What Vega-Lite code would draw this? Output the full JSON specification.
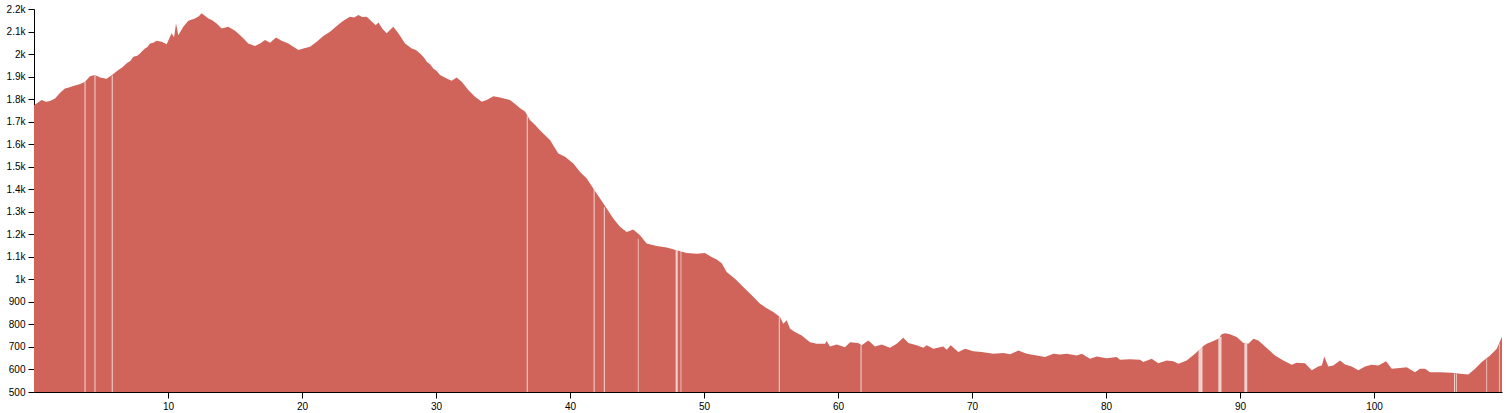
{
  "$schema": "https://vega.github.io/schema/vega-lite/v6.json",
  "width": 1468,
  "height": 383,
  "autosize": {"type": "none"},
  "padding": {"left": 34, "top": 9, "right": 6, "bottom": 21},
  "background": "white",
  "config": {
    "view": {"stroke": null},
    "axis": {
      "labelFont": "Liberation Sans",
      "labelFontSize": 10,
      "labelColor": "#000",
      "domainColor": "#000",
      "tickColor": "#000",
      "tickSize": 6,
      "grid": false,
      "title": null,
      "labelPadding": 3,
      "labelOverlap": false,
      "labelFlush": false
    }
  },
  "datasets": {
    "profile": [
      {"km": 0, "ele": 1773}, {"km": 0.3, "ele": 1785}, {"km": 0.57, "ele": 1796}, {"km": 0.9, "ele": 1788}, {"km": 1.19, "ele": 1792}, {"km": 1.57, "ele": 1803},
      {"km": 1.95, "ele": 1828}, {"km": 2.31, "ele": 1847}, {"km": 2.6, "ele": 1852}, {"km": 2.93, "ele": 1858}, {"km": 3.4, "ele": 1866}, {"km": 3.81, "ele": 1877}, {"km": 4.18, "ele": 1902},
      {"km": 4.55, "ele": 1907}, {"km": 4.93, "ele": 1896}, {"km": 5.42, "ele": 1890}, {"km": 5.92, "ele": 1911},
      {"km": 6.29, "ele": 1929}, {"km": 6.6, "ele": 1942}, {"km": 6.92, "ele": 1959}, {"km": 7.2, "ele": 1970}, {"km": 7.41, "ele": 1988}, {"km": 7.7, "ele": 1993}, {"km": 7.91, "ele": 2003},
      {"km": 8.1, "ele": 2015}, {"km": 8.28, "ele": 2025}, {"km": 8.45, "ele": 2030}, {"km": 8.66, "ele": 2047}, {"km": 8.9, "ele": 2050}, {"km": 9.15, "ele": 2059}, {"km": 9.53, "ele": 2055},
      {"km": 9.9, "ele": 2044}, {"km": 10.1, "ele": 2070}, {"km": 10.27, "ele": 2092}, {"km": 10.45, "ele": 2075}, {"km": 10.6, "ele": 2136},
      {"km": 10.77, "ele": 2084}, {"km": 11.14, "ele": 2121}, {"km": 11.52, "ele": 2148}, {"km": 12.01, "ele": 2158},
      {"km": 12.3, "ele": 2168}, {"km": 12.51, "ele": 2181}, {"km": 12.75, "ele": 2170}, {"km": 13.01, "ele": 2158}, {"km": 13.3, "ele": 2150}, {"km": 13.63, "ele": 2136}, {"km": 14.0, "ele": 2114},
      {"km": 14.5, "ele": 2121}, {"km": 15.0, "ele": 2104}, {"km": 15.3, "ele": 2088}, {"km": 15.62, "ele": 2070}, {"km": 15.99, "ele": 2047},
      {"km": 16.49, "ele": 2036}, {"km": 16.87, "ele": 2047}, {"km": 17.24, "ele": 2062}, {"km": 17.61, "ele": 2050},
      {"km": 18.06, "ele": 2073}, {"km": 18.48, "ele": 2059}, {"km": 18.98, "ele": 2047}, {"km": 19.35, "ele": 2032},
      {"km": 19.73, "ele": 2018}, {"km": 20.1, "ele": 2025}, {"km": 20.6, "ele": 2032}, {"km": 21.1, "ele": 2055},
      {"km": 21.59, "ele": 2080}, {"km": 22.09, "ele": 2099}, {"km": 22.59, "ele": 2124}, {"km": 23.08, "ele": 2148},
      {"km": 23.58, "ele": 2166}, {"km": 23.9, "ele": 2162}, {"km": 24.2, "ele": 2173}, {"km": 24.5, "ele": 2165}, {"km": 24.83, "ele": 2166}, {"km": 25.2, "ele": 2144},
      {"km": 25.5, "ele": 2128}, {"km": 25.7, "ele": 2140}, {"km": 26.0, "ele": 2112}, {"km": 26.32, "ele": 2092}, {"km": 26.81, "ele": 2121},
      {"km": 27.19, "ele": 2092}, {"km": 27.69, "ele": 2047}, {"km": 28.19, "ele": 2025}, {"km": 28.5, "ele": 2018}, {"km": 28.81, "ele": 2003},
      {"km": 29.1, "ele": 1985}, {"km": 29.31, "ele": 1966}, {"km": 29.55, "ele": 1955}, {"km": 29.8, "ele": 1936}, {"km": 30.05, "ele": 1925}, {"km": 30.3, "ele": 1907}, {"km": 30.8, "ele": 1892},
      {"km": 31.17, "ele": 1881}, {"km": 31.54, "ele": 1896}, {"km": 31.92, "ele": 1877}, {"km": 32.41, "ele": 1840},
      {"km": 32.91, "ele": 1810}, {"km": 33.41, "ele": 1788}, {"km": 33.78, "ele": 1796}, {"km": 34.28, "ele": 1813},
      {"km": 34.78, "ele": 1807}, {"km": 35.52, "ele": 1796}, {"km": 36.02, "ele": 1773}, {"km": 36.3, "ele": 1758},
      {"km": 36.64, "ele": 1745}, {"km": 37.01, "ele": 1707}, {"km": 37.4, "ele": 1685}, {"km": 37.76, "ele": 1662},
      {"km": 38.1, "ele": 1642}, {"km": 38.51, "ele": 1618}, {"km": 38.8, "ele": 1590}, {"km": 39.13, "ele": 1559}, {"km": 39.63, "ele": 1544}, {"km": 40.25, "ele": 1514},
      {"km": 40.75, "ele": 1477}, {"km": 41.25, "ele": 1448}, {"km": 41.74, "ele": 1403}, {"km": 42.24, "ele": 1359},
      {"km": 42.74, "ele": 1314}, {"km": 43.23, "ele": 1270}, {"km": 43.73, "ele": 1233}, {"km": 44.23, "ele": 1210},
      {"km": 44.72, "ele": 1221}, {"km": 45.22, "ele": 1196}, {"km": 45.72, "ele": 1159}, {"km": 46.47, "ele": 1148},
      {"km": 47.22, "ele": 1141}, {"km": 47.96, "ele": 1129}, {"km": 48.71, "ele": 1117}, {"km": 49.46, "ele": 1114},
      {"km": 50.07, "ele": 1117}, {"km": 50.57, "ele": 1099}, {"km": 50.95, "ele": 1088}, {"km": 51.32, "ele": 1072}, {"km": 51.69, "ele": 1033},
      {"km": 52.31, "ele": 1003}, {"km": 52.93, "ele": 966}, {"km": 53.56, "ele": 929}, {"km": 54.18, "ele": 892},
      {"km": 54.68, "ele": 872}, {"km": 55.17, "ele": 855}, {"km": 55.67, "ele": 833}, {"km": 55.92, "ele": 803},
      {"km": 56.17, "ele": 818}, {"km": 56.42, "ele": 781}, {"km": 56.79, "ele": 766}, {"km": 57.29, "ele": 751},
      {"km": 57.91, "ele": 721}, {"km": 58.41, "ele": 714}, {"km": 59.03, "ele": 714}, {"km": 59.16, "ele": 726},
      {"km": 59.4, "ele": 702}, {"km": 59.9, "ele": 711}, {"km": 60.52, "ele": 699}, {"km": 60.9, "ele": 721},
      {"km": 61.5, "ele": 717}, {"km": 61.77, "ele": 707}, {"km": 62.26, "ele": 729}, {"km": 62.76, "ele": 702},
      {"km": 63.26, "ele": 711}, {"km": 63.88, "ele": 696}, {"km": 64.38, "ele": 714}, {"km": 64.87, "ele": 741},
      {"km": 65.25, "ele": 717}, {"km": 65.87, "ele": 707}, {"km": 66.37, "ele": 696}, {"km": 66.62, "ele": 707},
      {"km": 67.11, "ele": 692}, {"km": 67.86, "ele": 702}, {"km": 68.11, "ele": 688}, {"km": 68.41, "ele": 707},
      {"km": 68.98, "ele": 677}, {"km": 69.48, "ele": 692}, {"km": 70.1, "ele": 681}, {"km": 70.72, "ele": 677},
      {"km": 71.59, "ele": 670}, {"km": 72.34, "ele": 673}, {"km": 72.84, "ele": 668}, {"km": 73.46, "ele": 684},
      {"km": 74.08, "ele": 670}, {"km": 74.83, "ele": 662}, {"km": 75.45, "ele": 655}, {"km": 76.07, "ele": 670},
      {"km": 76.57, "ele": 667}, {"km": 77.07, "ele": 670}, {"km": 77.81, "ele": 662}, {"km": 78.19, "ele": 670},
      {"km": 78.81, "ele": 648}, {"km": 79.31, "ele": 658}, {"km": 80.05, "ele": 650}, {"km": 80.8, "ele": 655},
      {"km": 81.04, "ele": 643}, {"km": 81.79, "ele": 645}, {"km": 82.54, "ele": 643}, {"km": 82.78, "ele": 633},
      {"km": 83.41, "ele": 648}, {"km": 83.9, "ele": 628}, {"km": 84.53, "ele": 640}, {"km": 85.02, "ele": 637},
      {"km": 85.4, "ele": 625}, {"km": 86.02, "ele": 640}, {"km": 86.64, "ele": 670}, {"km": 87.14, "ele": 699},
      {"km": 87.51, "ele": 714}, {"km": 88.01, "ele": 726}, {"km": 88.38, "ele": 736}, {"km": 88.63, "ele": 756},
      {"km": 88.88, "ele": 761}, {"km": 89.25, "ele": 756}, {"km": 89.75, "ele": 744}, {"km": 90.25, "ele": 717},
      {"km": 90.62, "ele": 714}, {"km": 91.0, "ele": 736}, {"km": 91.37, "ele": 729}, {"km": 91.99, "ele": 695},
      {"km": 92.61, "ele": 662}, {"km": 93.23, "ele": 640}, {"km": 93.86, "ele": 621}, {"km": 94.23, "ele": 630},
      {"km": 94.85, "ele": 628}, {"km": 95.35, "ele": 596}, {"km": 95.84, "ele": 613}, {"km": 96.1, "ele": 618},
      {"km": 96.29, "ele": 658}, {"km": 96.59, "ele": 613}, {"km": 96.96, "ele": 618}, {"km": 97.46, "ele": 640},
      {"km": 97.84, "ele": 622}, {"km": 98.33, "ele": 613}, {"km": 98.83, "ele": 596}, {"km": 99.33, "ele": 613},
      {"km": 99.83, "ele": 621}, {"km": 100.32, "ele": 618}, {"km": 100.9, "ele": 637}, {"km": 101.32, "ele": 603},
      {"km": 101.94, "ele": 607}, {"km": 102.44, "ele": 610}, {"km": 103.06, "ele": 588}, {"km": 103.43, "ele": 603},
      {"km": 103.81, "ele": 603}, {"km": 104.18, "ele": 588}, {"km": 104.93, "ele": 588}, {"km": 105.8, "ele": 585},
      {"km": 106.42, "ele": 581}, {"km": 107.04, "ele": 578}, {"km": 107.54, "ele": 603}, {"km": 108.04, "ele": 633},
      {"km": 108.66, "ele": 662}, {"km": 109.16, "ele": 692}, {"km": 109.55, "ele": 745}
    ],
    "gaps": [
      {"start": 3.77, "end": 3.85, "ele": 1877},
      {"start": 4.51, "end": 4.59, "ele": 1907},
      {"start": 5.8, "end": 5.88, "ele": 1905},
      {"start": 36.77, "end": 36.85, "ele": 1725},
      {"start": 41.76, "end": 41.84, "ele": 1400},
      {"start": 42.52, "end": 42.6, "ele": 1320},
      {"start": 45.06, "end": 45.12, "ele": 1180},
      {"start": 47.88, "end": 48.04, "ele": 1130},
      {"start": 48.25, "end": 48.31, "ele": 1128},
      {"start": 55.58, "end": 55.66, "ele": 833},
      {"start": 61.68, "end": 61.76, "ele": 707},
      {"start": 86.9, "end": 87.2, "ele": 700},
      {"start": 88.38, "end": 88.62, "ele": 745},
      {"start": 90.32, "end": 90.54, "ele": 716},
      {"start": 105.97, "end": 106.05, "ele": 582},
      {"start": 106.13, "end": 106.19, "ele": 581},
      {"start": 108.38, "end": 108.44, "ele": 645},
      {"start": 109.32, "end": 109.38, "ele": 715}
    ]
  },
  "layer": [
    {
      "data": {"name": "profile"},
      "mark": {"type": "area", "color": "#d0645a", "opacity": 1, "clip": true},
      "encoding": {
        "x": {
          "field": "km", "type": "quantitative",
          "scale": {"domain": [0, 109.55], "nice": false, "zero": false},
          "axis": {"values": [10, 20, 30, 40, 50, 60, 70, 80, 90, 100], "format": "d", "tickCount": 20}
        },
        "y": {
          "field": "ele", "type": "quantitative",
          "scale": {"domain": [500, 2200], "nice": false, "zero": false},
          "axis": {
            "values": [500, 600, 700, 800, 900, 1000, 1100, 1200, 1300, 1400, 1500, 1600, 1700, 1800, 1900, 2000, 2100, 2200],
            "tickCount": 20,
            "labelOverlap": false,
            "labelBound": false,
            "labelExpr": "datum.value >= 1000 ? format(datum.value / 1000, '~g') + 'k' : format(datum.value, 'd')"
          }
        }
      }
    },
    {
      "data": {"name": "gaps"},
      "mark": {"type": "rect", "color": "#ffffff", "opacity": 0.7, "clip": true},
      "encoding": {
        "x": {"field": "start", "type": "quantitative"},
        "x2": {"field": "end"},
        "y": {"field": "ele", "type": "quantitative"},
        "y2": {"datum": 500}
      }
    }
  ]
}
